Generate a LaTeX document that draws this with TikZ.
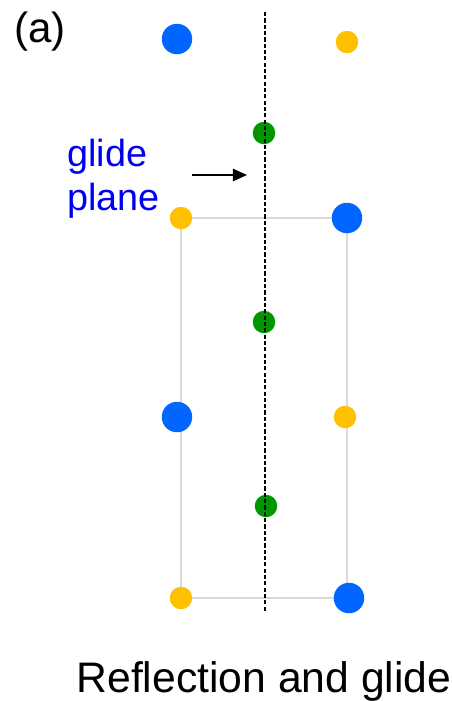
\documentclass[tikz,border=0pt]{standalone}
\usepackage{fontspec}
\setmainfont{Liberation Sans}
\usepackage{xcolor}
\definecolor{atomblue}{RGB}{0, 102, 255}
\definecolor{atomyellow}{RGB}{255, 192, 0}
\definecolor{atomgreen}{RGB}{0, 150, 0}
\definecolor{cellgray}{RGB}{217, 217, 217}
\definecolor{labelblue}{RGB}{0, 0, 240}
\usetikzlibrary{
    arrows.meta,
    positioning,
    backgrounds
}
\tikzstyle{bigatom} = [
    circle,
    fill=atomblue,
    inner sep=0pt,
    minimum size=0.61cm
]
\tikzstyle{yellowatom} = [
    circle,
    fill=atomyellow,
    inner sep=0pt,
    minimum size=0.45cm
]
\tikzstyle{greenatom} = [
    circle,
    fill=atomgreen,
    inner sep=0pt,
    minimum size=0.45cm
]
\tikzstyle{cell} = [
    draw=cellgray,
    line width=1.2pt
]
\tikzstyle{mirror} = [
    black,
    line width=0.8pt,
    dash pattern=on 2.4pt off 1.2pt
]
\tikzstyle{arrow} = [
    line width=1.1pt,
    -{Triangle[length=8pt, width=7pt]}
]

\begin{document}
\begin{tikzpicture}[x=0.02cm, y=-0.02cm]

\useasboundingbox (0,0) rectangle (452,701);

% atoms, one pair per row
\node (b1) [bigatom]    at (177,39)  {};
\node (y1) [yellowatom] at (347,42)  {};
\node (g1) [greenatom]  at (264,133) {};
\node (y2) [yellowatom] at (181,218) {};
\node (b2) [bigatom]    at (347,218) {};
\node (g2) [greenatom]  at (264,322) {};
\node (b3) [bigatom]    at (177,417) {};
\node (y3) [yellowatom] at (345,417) {};
\node (g3) [greenatom]  at (266,506) {};
\node (y4) [yellowatom] at (181,598) {};
\node (b4) [bigatom]    at (349,598) {};

% unit cell behind the atoms
\begin{pgfonlayer}{background}
\draw [cell] (y2.center) -- (b2.center) -- (b2.center |- y4.center)
             -- (y4.center) -- cycle;
\end{pgfonlayer}

% mirror line
\coordinate (top) at (265,12);
\coordinate (bot) at (265,612);
\draw [mirror] (top) -- (bot);

% labels
\node (tag) [font=\fontsize{24}{28}\selectfont] at (40,32) {(a)};
\node (glide) [anchor=west, align=left, text=labelblue, inner sep=0pt,
    font=\fontsize{21.5}{25}\selectfont] at (67,179) {glide\\plane};
\coordinate (from) at (192,175);
\coordinate (to) at (247,175);
\draw [arrow] (from) -- (to);

\node (caption) [anchor=base, font=\fontsize{24.3}{28}\selectfont]
    at (264,692) {Reflection and glide};

\end{tikzpicture}
\end{document}
